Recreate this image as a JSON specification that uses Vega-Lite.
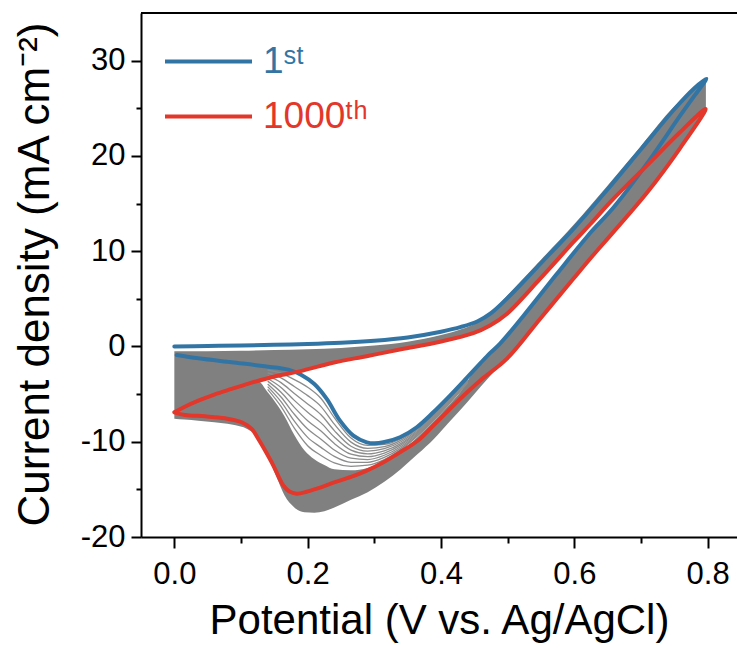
{
  "$schema": "https://vega.github.io/schema/vega-lite/v6.json",
  "width": 596,
  "height": 524,
  "autosize": {"type": "none"},
  "padding": {"left": 141, "top": 13, "right": 0, "bottom": 113},
  "background": "white",
  "config": {"view": {"stroke": null}, "font": "Liberation Sans"},
  "datasets": {
    "bandA": [
      {"v": 0, "i": -0.5, "i2": -6.91},
      {"v": 0.05, "i": -0.5, "i2": -5.32},
      {"v": 0.1, "i": -0.45, "i2": -4.15},
      {"v": 0.15, "i": -0.38, "i2": -3.17},
      {"v": 0.2, "i": -0.3, "i2": -2.39},
      {"v": 0.25, "i": -0.15, "i2": -1.54},
      {"v": 0.3, "i": 0.1, "i2": -0.86},
      {"v": 0.35, "i": 0.5, "i2": -0.17},
      {"v": 0.4, "i": 1.2, "i2": 0.52},
      {"v": 0.43, "i": 1.8, "i2": 1.07},
      {"v": 0.455, "i": 2.55, "i2": 1.6},
      {"v": 0.475, "i": 3.55, "i2": 2.25},
      {"v": 0.5, "i": 5.4, "i2": 3.48},
      {"v": 0.55, "i": 9.1, "i2": 7.2},
      {"v": 0.6, "i": 12.85, "i2": 11.0},
      {"v": 0.65, "i": 16.9, "i2": 14.9},
      {"v": 0.7, "i": 21.05, "i2": 18.4},
      {"v": 0.75, "i": 25.2, "i2": 21.9},
      {"v": 0.797, "i": 28.05, "i2": 24.93}
    ],
    "bandB": [
      {"v": 0, "i": -6.91, "i2": -7.6},
      {"v": 0.015, "i": -6.35, "i2": -7.68},
      {"v": 0.036, "i": -5.69, "i2": -7.8},
      {"v": 0.06, "i": -5.05, "i2": -7.95},
      {"v": 0.086, "i": -4.46, "i2": -8.2},
      {"v": 0.11, "i": -3.93, "i2": -8.7},
      {"v": 0.125, "i": -3.62, "i2": -9.5},
      {"v": 0.14, "i": -4.8, "i2": -11.5},
      {"v": 0.155, "i": -6.2, "i2": -14.0},
      {"v": 0.165, "i": -7.3, "i2": -15.6},
      {"v": 0.18, "i": -9.3, "i2": -16.9},
      {"v": 0.195, "i": -10.9, "i2": -17.4},
      {"v": 0.21, "i": -11.85, "i2": -17.45},
      {"v": 0.225, "i": -12.45, "i2": -17.3},
      {"v": 0.24, "i": -12.9, "i2": -16.9},
      {"v": 0.265, "i": -13.0, "i2": -16.1},
      {"v": 0.29, "i": -12.75, "i2": -15.3},
      {"v": 0.315, "i": -12.1, "i2": -14.2},
      {"v": 0.34, "i": -11.0, "i2": -12.85},
      {"v": 0.365, "i": -9.5, "i2": -11.3},
      {"v": 0.39, "i": -7.8, "i2": -9.65},
      {"v": 0.41, "i": -6.3, "i2": -8.1},
      {"v": 0.43, "i": -4.7, "i2": -6.6},
      {"v": 0.45, "i": -2.5, "i2": -5.0},
      {"v": 0.47, "i": -0.95, "i2": -3.4},
      {"v": 0.49, "i": 0.4, "i2": -1.85},
      {"v": 0.51, "i": 2.05, "i2": -0.4},
      {"v": 0.55, "i": 5.55, "i2": 3.0},
      {"v": 0.6, "i": 9.85, "i2": 7.2},
      {"v": 0.65, "i": 13.9, "i2": 11.35},
      {"v": 0.7, "i": 18.4, "i2": 15.5},
      {"v": 0.75, "i": 23.3, "i2": 20.0},
      {"v": 0.797, "i": 28.05, "i2": 24.93}
    ],
    "fan": [
      {"c": 1, "v": 0.14, "i": -2.49}, {"c": 1, "v": 0.16, "i": -2.8}, {"c": 1, "v": 0.18, "i": -3.48}, {"c": 1, "v": 0.2, "i": -4.28}, {"c": 1, "v": 0.22, "i": -5.46}, {"c": 1, "v": 0.24, "i": -7.48}, {"c": 1, "v": 0.265, "i": -9.62}, {"c": 1, "v": 0.29, "i": -10.39}, {"c": 1, "v": 0.315, "i": -10.28}, {"c": 1, "v": 0.34, "i": -9.67}, {"c": 1, "v": 0.365, "i": -8.52}, {"c": 1, "v": 0.39, "i": -6.96}, {"c": 1, "v": 0.41, "i": -5.5}, {"c": 1, "v": 0.44, "i": -3.28},
      {"c": 2, "v": 0.14, "i": -2.78}, {"c": 2, "v": 0.16, "i": -3.3}, {"c": 2, "v": 0.18, "i": -4.21}, {"c": 2, "v": 0.2, "i": -5.16}, {"c": 2, "v": 0.22, "i": -6.31}, {"c": 2, "v": 0.24, "i": -8.16}, {"c": 2, "v": 0.265, "i": -10.04}, {"c": 2, "v": 0.29, "i": -10.69}, {"c": 2, "v": 0.315, "i": -10.51}, {"c": 2, "v": 0.34, "i": -9.83}, {"c": 2, "v": 0.365, "i": -8.64}, {"c": 2, "v": 0.39, "i": -7.06}, {"c": 2, "v": 0.41, "i": -5.6}, {"c": 2, "v": 0.44, "i": -3.36},
      {"c": 3, "v": 0.14, "i": -3.07}, {"c": 3, "v": 0.16, "i": -3.8}, {"c": 3, "v": 0.18, "i": -4.93}, {"c": 3, "v": 0.2, "i": -6.03}, {"c": 3, "v": 0.22, "i": -7.17}, {"c": 3, "v": 0.24, "i": -8.83}, {"c": 3, "v": 0.265, "i": -10.47}, {"c": 3, "v": 0.29, "i": -10.98}, {"c": 3, "v": 0.315, "i": -10.73}, {"c": 3, "v": 0.34, "i": -10.0}, {"c": 3, "v": 0.365, "i": -8.77}, {"c": 3, "v": 0.39, "i": -7.17}, {"c": 3, "v": 0.41, "i": -5.7}, {"c": 3, "v": 0.44, "i": -3.43},
      {"c": 4, "v": 0.14, "i": -3.36}, {"c": 4, "v": 0.16, "i": -4.3}, {"c": 4, "v": 0.18, "i": -5.66}, {"c": 4, "v": 0.2, "i": -6.91}, {"c": 4, "v": 0.22, "i": -8.02}, {"c": 4, "v": 0.24, "i": -9.51}, {"c": 4, "v": 0.265, "i": -10.89}, {"c": 4, "v": 0.29, "i": -11.28}, {"c": 4, "v": 0.315, "i": -10.96}, {"c": 4, "v": 0.34, "i": -10.17}, {"c": 4, "v": 0.365, "i": -8.89}, {"c": 4, "v": 0.39, "i": -7.27}, {"c": 4, "v": 0.41, "i": -5.8}, {"c": 4, "v": 0.44, "i": -3.51},
      {"c": 5, "v": 0.14, "i": -3.64}, {"c": 5, "v": 0.16, "i": -4.8}, {"c": 5, "v": 0.18, "i": -6.39}, {"c": 5, "v": 0.2, "i": -7.79}, {"c": 5, "v": 0.22, "i": -8.88}, {"c": 5, "v": 0.24, "i": -10.19}, {"c": 5, "v": 0.265, "i": -11.31}, {"c": 5, "v": 0.29, "i": -11.57}, {"c": 5, "v": 0.315, "i": -11.19}, {"c": 5, "v": 0.34, "i": -10.33}, {"c": 5, "v": 0.365, "i": -9.01}, {"c": 5, "v": 0.39, "i": -7.38}, {"c": 5, "v": 0.41, "i": -5.9}, {"c": 5, "v": 0.44, "i": -3.59},
      {"c": 6, "v": 0.14, "i": -3.93}, {"c": 6, "v": 0.16, "i": -5.3}, {"c": 6, "v": 0.18, "i": -7.12}, {"c": 6, "v": 0.2, "i": -8.67}, {"c": 6, "v": 0.22, "i": -9.73}, {"c": 6, "v": 0.24, "i": -10.87}, {"c": 6, "v": 0.265, "i": -11.73}, {"c": 6, "v": 0.29, "i": -11.87}, {"c": 6, "v": 0.315, "i": -11.42}, {"c": 6, "v": 0.34, "i": -10.5}, {"c": 6, "v": 0.365, "i": -9.13}, {"c": 6, "v": 0.39, "i": -7.48}, {"c": 6, "v": 0.41, "i": -6.0}, {"c": 6, "v": 0.44, "i": -3.67},
      {"c": 7, "v": 0.14, "i": -4.22}, {"c": 7, "v": 0.16, "i": -5.8}, {"c": 7, "v": 0.18, "i": -7.84}, {"c": 7, "v": 0.2, "i": -9.54}, {"c": 7, "v": 0.22, "i": -10.59}, {"c": 7, "v": 0.24, "i": -11.54}, {"c": 7, "v": 0.265, "i": -12.16}, {"c": 7, "v": 0.29, "i": -12.16}, {"c": 7, "v": 0.315, "i": -11.64}, {"c": 7, "v": 0.34, "i": -10.67}, {"c": 7, "v": 0.365, "i": -9.26}, {"c": 7, "v": 0.39, "i": -7.59}, {"c": 7, "v": 0.41, "i": -6.1}, {"c": 7, "v": 0.44, "i": -3.74},
      {"c": 8, "v": 0.14, "i": -4.51}, {"c": 8, "v": 0.16, "i": -6.3}, {"c": 8, "v": 0.18, "i": -8.57}, {"c": 8, "v": 0.2, "i": -10.42}, {"c": 8, "v": 0.22, "i": -11.44}, {"c": 8, "v": 0.24, "i": -12.22}, {"c": 8, "v": 0.265, "i": -12.58}, {"c": 8, "v": 0.29, "i": -12.46}, {"c": 8, "v": 0.315, "i": -11.87}, {"c": 8, "v": 0.34, "i": -10.83}, {"c": 8, "v": 0.365, "i": -9.38}, {"c": 8, "v": 0.39, "i": -7.69}, {"c": 8, "v": 0.41, "i": -6.2}, {"c": 8, "v": 0.44, "i": -3.82}
    ],
    "loops": [
      {"c": "1st", "o": 1, "v": 0, "i": 0},
      {"c": "1st", "o": 2, "v": 0.05, "i": 0.05},
      {"c": "1st", "o": 3, "v": 0.1, "i": 0.1},
      {"c": "1st", "o": 4, "v": 0.15, "i": 0.17},
      {"c": "1st", "o": 5, "v": 0.2, "i": 0.25},
      {"c": "1st", "o": 6, "v": 0.25, "i": 0.38},
      {"c": "1st", "o": 7, "v": 0.3, "i": 0.6},
      {"c": "1st", "o": 8, "v": 0.35, "i": 0.95},
      {"c": "1st", "o": 9, "v": 0.4, "i": 1.55},
      {"c": "1st", "o": 10, "v": 0.43, "i": 2.05},
      {"c": "1st", "o": 11, "v": 0.455, "i": 2.65},
      {"c": "1st", "o": 12, "v": 0.475, "i": 3.5},
      {"c": "1st", "o": 13, "v": 0.5, "i": 5.1},
      {"c": "1st", "o": 14, "v": 0.55, "i": 8.75},
      {"c": "1st", "o": 15, "v": 0.6, "i": 12.45},
      {"c": "1st", "o": 16, "v": 0.65, "i": 16.5},
      {"c": "1st", "o": 17, "v": 0.7, "i": 20.7},
      {"c": "1st", "o": 18, "v": 0.75, "i": 24.9},
      {"c": "1st", "o": 19, "v": 0.78, "i": 27.1},
      {"c": "1st", "o": 20, "v": 0.798, "i": 28.1},
      {"c": "1st", "o": 21, "v": 0.78, "i": 26.3},
      {"c": "1st", "o": 22, "v": 0.76, "i": 24.35},
      {"c": "1st", "o": 23, "v": 0.71, "i": 19.3},
      {"c": "1st", "o": 24, "v": 0.66, "i": 14.7},
      {"c": "1st", "o": 25, "v": 0.62, "i": 11.6},
      {"c": "1st", "o": 26, "v": 0.5736, "i": 7.6},
      {"c": "1st", "o": 27, "v": 0.5235, "i": 3.2},
      {"c": "1st", "o": 28, "v": 0.4886, "i": 0.3},
      {"c": "1st", "o": 29, "v": 0.4735, "i": -0.7},
      {"c": "1st", "o": 30, "v": 0.4585, "i": -1.8},
      {"c": "1st", "o": 31, "v": 0.4386, "i": -3.3},
      {"c": "1st", "o": 32, "v": 0.4135, "i": -5.16},
      {"c": "1st", "o": 33, "v": 0.3885, "i": -6.91},
      {"c": "1st", "o": 34, "v": 0.3636, "i": -8.48},
      {"c": "1st", "o": 35, "v": 0.3385, "i": -9.53},
      {"c": "1st", "o": 36, "v": 0.3135, "i": -10.06},
      {"c": "1st", "o": 37, "v": 0.3, "i": -10.16},
      {"c": "1st", "o": 38, "v": 0.2886, "i": -10.06},
      {"c": "1st", "o": 39, "v": 0.2685, "i": -9.36},
      {"c": "1st", "o": 40, "v": 0.2485, "i": -7.79},
      {"c": "1st", "o": 41, "v": 0.2286, "i": -5.51},
      {"c": "1st", "o": 42, "v": 0.21, "i": -3.95},
      {"c": "1st", "o": 43, "v": 0.19, "i": -2.97},
      {"c": "1st", "o": 44, "v": 0.171, "i": -2.43},
      {"c": "1st", "o": 45, "v": 0.136, "i": -2.08},
      {"c": "1st", "o": 46, "v": 0.086, "i": -1.66},
      {"c": "1st", "o": 47, "v": 0.036, "i": -1.24},
      {"c": "1st", "o": 48, "v": 0.0036, "i": -0.89},
      {"c": "1000th", "o": 1, "v": 0, "i": -6.91},
      {"c": "1000th", "o": 2, "v": 0.015, "i": -6.35},
      {"c": "1000th", "o": 3, "v": 0.036, "i": -5.69},
      {"c": "1000th", "o": 4, "v": 0.06, "i": -5.05},
      {"c": "1000th", "o": 5, "v": 0.086, "i": -4.46},
      {"c": "1000th", "o": 6, "v": 0.11, "i": -3.93},
      {"c": "1000th", "o": 7, "v": 0.136, "i": -3.41},
      {"c": "1000th", "o": 8, "v": 0.16, "i": -3.0},
      {"c": "1000th", "o": 9, "v": 0.186, "i": -2.64},
      {"c": "1000th", "o": 10, "v": 0.215, "i": -2.12},
      {"c": "1000th", "o": 11, "v": 0.241, "i": -1.66},
      {"c": "1000th", "o": 12, "v": 0.29, "i": -1.0},
      {"c": "1000th", "o": 13, "v": 0.34, "i": -0.3},
      {"c": "1000th", "o": 14, "v": 0.3985, "i": 0.5},
      {"c": "1000th", "o": 15, "v": 0.4485, "i": 1.4},
      {"c": "1000th", "o": 16, "v": 0.4735, "i": 2.2},
      {"c": "1000th", "o": 17, "v": 0.4986, "i": 3.41},
      {"c": "1000th", "o": 18, "v": 0.5485, "i": 7.09},
      {"c": "1000th", "o": 19, "v": 0.5985, "i": 10.94},
      {"c": "1000th", "o": 20, "v": 0.6235, "i": 12.8},
      {"c": "1000th", "o": 21, "v": 0.6585, "i": 15.48},
      {"c": "1000th", "o": 22, "v": 0.7086, "i": 18.98},
      {"c": "1000th", "o": 23, "v": 0.7585, "i": 22.48},
      {"c": "1000th", "o": 24, "v": 0.797, "i": 24.93},
      {"c": "1000th", "o": 25, "v": 0.7585, "i": 20.8},
      {"c": "1000th", "o": 26, "v": 0.7086, "i": 16.1},
      {"c": "1000th", "o": 27, "v": 0.6585, "i": 12.0},
      {"c": "1000th", "o": 28, "v": 0.6285, "i": 9.6},
      {"c": "1000th", "o": 29, "v": 0.5985, "i": 7.1},
      {"c": "1000th", "o": 30, "v": 0.5485, "i": 2.89},
      {"c": "1000th", "o": 31, "v": 0.4986, "i": -1.31},
      {"c": "1000th", "o": 32, "v": 0.4585, "i": -3.59},
      {"c": "1000th", "o": 33, "v": 0.4285, "i": -5.51},
      {"c": "1000th", "o": 34, "v": 0.3885, "i": -8.31},
      {"c": "1000th", "o": 35, "v": 0.365, "i": -9.9},
      {"c": "1000th", "o": 36, "v": 0.3385, "i": -11.11},
      {"c": "1000th", "o": 37, "v": 0.315, "i": -12.1},
      {"c": "1000th", "o": 38, "v": 0.2886, "i": -13.04},
      {"c": "1000th", "o": 39, "v": 0.265, "i": -13.7},
      {"c": "1000th", "o": 40, "v": 0.2385, "i": -14.3},
      {"c": "1000th", "o": 41, "v": 0.215, "i": -14.9},
      {"c": "1000th", "o": 42, "v": 0.1985, "i": -15.25},
      {"c": "1000th", "o": 43, "v": 0.1836, "i": -15.45},
      {"c": "1000th", "o": 44, "v": 0.172, "i": -15.2},
      {"c": "1000th", "o": 45, "v": 0.1635, "i": -14.6},
      {"c": "1000th", "o": 46, "v": 0.156, "i": -13.6},
      {"c": "1000th", "o": 47, "v": 0.1485, "i": -12.5},
      {"c": "1000th", "o": 48, "v": 0.136, "i": -10.9},
      {"c": "1000th", "o": 49, "v": 0.126, "i": -9.71},
      {"c": "1000th", "o": 50, "v": 0.116, "i": -8.66},
      {"c": "1000th", "o": 51, "v": 0.101, "i": -7.96},
      {"c": "1000th", "o": 52, "v": 0.076, "i": -7.54},
      {"c": "1000th", "o": 53, "v": 0.046, "i": -7.33},
      {"c": "1000th", "o": 54, "v": 0.016, "i": -7.19},
      {"c": "1000th", "o": 55, "v": 0, "i": -6.91}
    ]
  },
  "layer": [
    {
      "data": {"name": "bandA"},
      "mark": {"type": "area", "interpolate": "monotone", "color": "#808080"},
      "encoding": {
        "x": {
          "field": "v", "type": "quantitative", "title": "Potential (V vs. Ag/AgCl)",
          "scale": {"domain": [-0.05, 0.844], "nice": false, "zero": false},
          "axis": {
            "values": [0, 0.1, 0.2, 0.3, 0.4, 0.5, 0.6, 0.7, 0.8],
            "labelExpr": "round(datum.value*10) % 2 === 0 ? format(datum.value, '.1f') : ''",
            "tickSize": {"condition": {"test": "round(datum.value*10) % 2 === 0", "value": 11}, "value": 6},
            "grid": false, "domainColor": "black", "domainWidth": 2,
            "tickColor": "black", "tickWidth": 2,
            "labelFont": "Liberation Sans", "labelFontSize": 31, "labelColor": "black",
            "labelPadding": 11, "labelFlush": false, "labelOverlap": false,
            "titleFont": "Liberation Sans", "titleFontSize": 42, "titleFontWeight": "normal",
            "titleColor": "black", "titleBaseline": "alphabetic", "titleY": 96
          }
        },
        "y": {
          "field": "i", "type": "quantitative", "title": "Current density (mA cm⁻²)",
          "scale": {"domain": [-20, 35], "nice": false, "zero": false},
          "axis": {
            "values": [-20, -15, -10, -5, 0, 5, 10, 15, 20, 25, 30],
            "labelExpr": "datum.value % 10 === 0 ? '' + datum.value : ''",
            "tickSize": {"condition": {"test": "datum.value % 10 === 0", "value": 10}, "value": 5},
            "grid": false, "domainColor": "black", "domainWidth": 2,
            "tickColor": "black", "tickWidth": 2,
            "labelFont": "Liberation Sans", "labelFontSize": 31, "labelColor": "black",
            "labelPadding": 6, "labelOverlap": false, "labelFlush": false,
            "titleFont": "Liberation Sans", "titleFontSize": 44, "titleFontWeight": "normal",
            "titleColor": "black", "titleAngle": 270, "titleBaseline": "alphabetic",
            "titleAlign": "center", "titleX": -93, "titleY": 261
          }
        },
        "y2": {"field": "i2"}
      }
    },
    {
      "data": {"name": "bandB"},
      "mark": {"type": "area", "interpolate": "monotone", "color": "#808080"},
      "encoding": {
        "x": {"field": "v", "type": "quantitative", "title": "Potential (V vs. Ag/AgCl)"},
        "y": {"field": "i", "type": "quantitative", "title": "Current density (mA cm⁻²)"},
        "y2": {"field": "i2"}
      }
    },
    {
      "data": {"name": "fan"},
      "mark": {"type": "line", "interpolate": "monotone", "color": "#8c8c8c", "strokeWidth": 1.3},
      "encoding": {
        "x": {"field": "v", "type": "quantitative", "title": "Potential (V vs. Ag/AgCl)"},
        "y": {"field": "i", "type": "quantitative", "title": "Current density (mA cm⁻²)"},
        "detail": {"field": "c", "type": "nominal"}
      }
    },
    {
      "data": {"name": "loops"},
      "mark": {"type": "line", "interpolate": "catmull-rom", "strokeWidth": 4, "strokeCap": "round", "strokeJoin": "round"},
      "encoding": {
        "x": {"field": "v", "type": "quantitative", "title": "Potential (V vs. Ag/AgCl)"},
        "y": {"field": "i", "type": "quantitative", "title": "Current density (mA cm⁻²)"},
        "order": {"field": "o", "type": "quantitative"},
        "color": {
          "field": "c", "type": "nominal",
          "scale": {"domain": ["1st", "1000th"], "range": ["#3275A4", "#E2372A"]},
          "legend": {
            "orient": "none", "legendX": 22, "legendY": 30, "title": null,
            "symbolType": "stroke", "symbolSize": 7569, "symbolStrokeWidth": 4,
            "clipHeight": 37,
            "labelFont": "Liberation Sans", "labelFontSize": 37, "labelOffset": 9,
            "rowPadding": 17, "padding": 0,
            "labelExpr": "datum.label === '1st' ? '1ˢᵗ' : '1000ᵗʰ'",
            "encode": {"labels": {"update": {"fill": {"signal": "datum.value === '1st' ? '#3275A4' : '#E2372A'"}}}}
          }
        }
      }
    },
    {
      "data": {"values": [{}]},
      "mark": {"type": "rule", "color": "black", "strokeWidth": 2},
      "encoding": {"y": {"datum": 35, "type": "quantitative", "title": "Current density (mA cm⁻²)"}}
    }
  ]
}
